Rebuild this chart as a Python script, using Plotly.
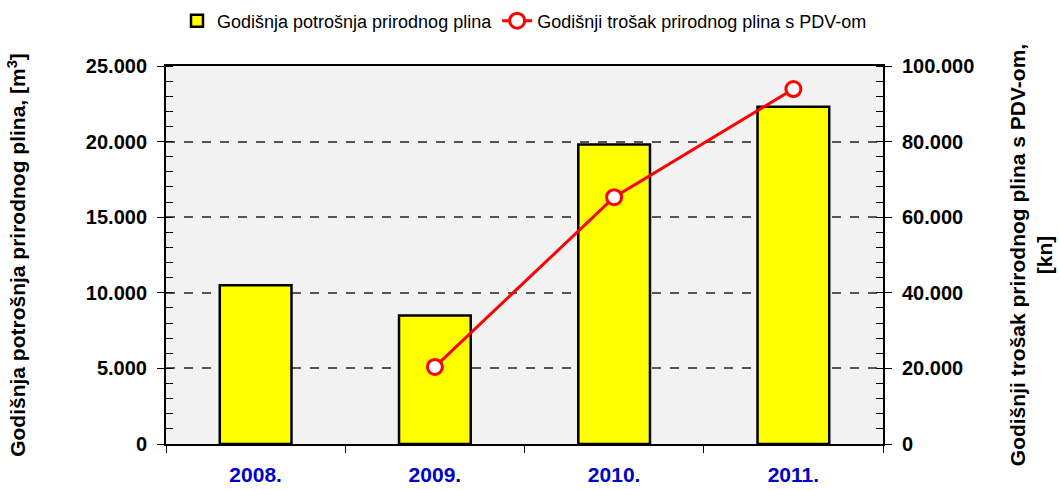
import plotly.graph_objects as go

years = ["2008.", "2009.", "2010.", "2011."]
consumption_m3 = [10500, 8500, 19800, 22300]
cost_years = ["2009.", "2010.", "2011."]
cost_kn = [20400, 65300, 93900]

left_ticks = [0, 5000, 10000, 15000, 20000, 25000]
right_ticks = [0, 20000, 40000, 60000, 80000, 100000]

FONT = "Arial, Liberation Sans, sans-serif"

fig = go.Figure()

fig.add_trace(go.Bar(
    x=years, y=consumption_m3,
    name="Godišnja potrošnja prirodnog plina",
    marker=dict(color="#ffff00", line=dict(color="black", width=2.5)),
    width=0.4,
    yaxis="y",
))

fig.add_trace(go.Scatter(
    x=cost_years, y=cost_kn,
    name="Godišnji trošak prirodnog plina s PDV-om",
    mode="lines+markers",
    line=dict(color="#ff0000", width=3),
    marker=dict(symbol="circle", size=15, color="white",
                line=dict(color="#ff0000", width=3)),
    yaxis="y2",
))

fig.update_layout(
    width=1060, height=490,
    margin=dict(l=166, r=177, t=66, b=46, autoexpand=False),
    paper_bgcolor="white",
    plot_bgcolor="#f2f2f2",
    separators=",.",
    font=dict(family=FONT, color="black"),
    showlegend=True,
    legend=dict(
        orientation="h", x=0.5, xanchor="center",
        yref="container", y=0.995, yanchor="top",
        font=dict(size=18, family=FONT),
        bgcolor="rgba(0,0,0,0)",
    ),
    xaxis=dict(
        type="category",
        automargin=False,
        tickson="boundaries",
        ticks="outside", ticklen=7, tickcolor="black", tickwidth=1,
        ticklabelstandoff=11,
        showline=True, linecolor="black", linewidth=2, mirror=True,
        showgrid=False,
        tickfont=dict(size=21, color="#0000cc", family=FONT, weight="bold"),
    ),
    yaxis=dict(
        range=[0, 25000],
        automargin=False,
        tickvals=left_ticks,
        tickformat=",d",
        ticks="outside", ticklen=7, tickcolor="black",
        ticklabelstandoff=6,
        minor=dict(dtick=1000, ticks="inside", ticklen=7, tickcolor="black", showgrid=False),
        showline=True, linecolor="black", linewidth=2,
        showgrid=True, gridcolor="#555555", griddash="dash", gridwidth=1.5,
        zeroline=False,
        tickfont=dict(size=20, family=FONT, weight="bold"),
        title=dict(text="Godišnja potrošnja prirodnog plina, [m<sup>3</sup>]",
                   font=dict(size=21, family=FONT, weight="bold"), standoff=54),
    ),
    yaxis2=dict(
        overlaying="y", side="right",
        automargin=False,
        range=[0, 100000],
        tickvals=right_ticks,
        tickformat=",d",
        ticks="outside", ticklen=7, tickcolor="black",
        ticklabelstandoff=6,
        minor=dict(dtick=4000, ticks="inside", ticklen=7, tickcolor="black", showgrid=False),
        showline=True, linecolor="black", linewidth=2,
        showgrid=False, zeroline=False,
        tickfont=dict(size=20, family=FONT, weight="bold"),
        title=dict(text="Godišnji trošak prirodnog plina s PDV-om,<br>[kn]",
                   font=dict(size=21, family=FONT, weight="bold"), standoff=37),
    ),
)

fig.write_html("out.html")
